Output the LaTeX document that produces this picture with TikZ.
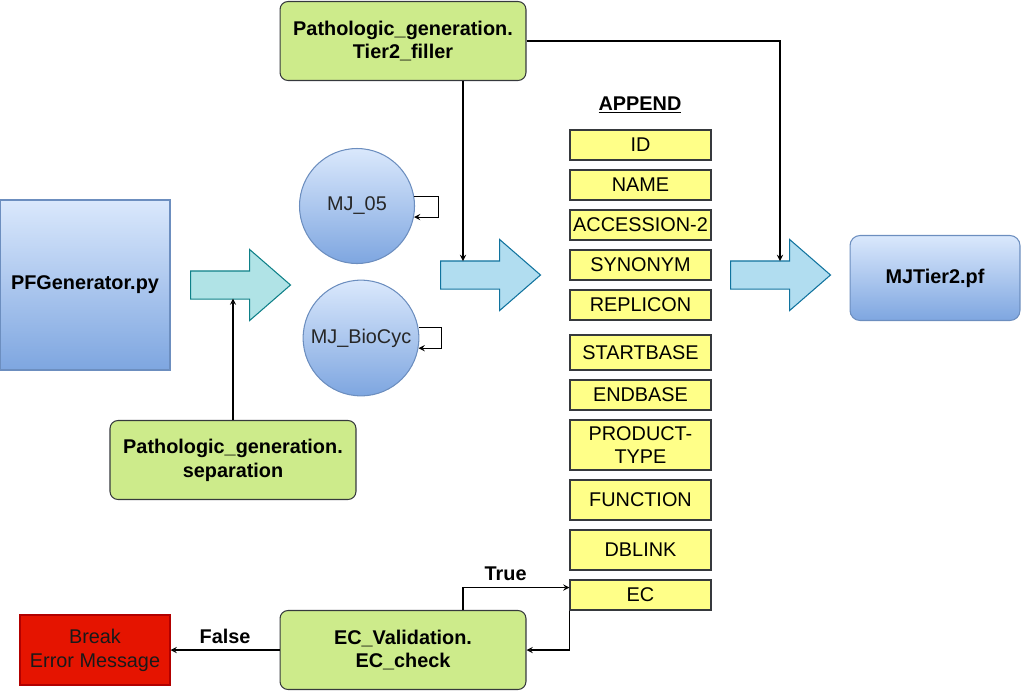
\documentclass[tikz,border=0pt]{standalone}
\usepackage{fontspec}
\setmainfont{Liberation Sans}
\usepackage{tikz}
\usetikzlibrary{shapes.arrows}

\definecolor{boxgreen}{HTML}{CDEB8B}
\definecolor{boxline}{HTML}{36393D}
\definecolor{fieldyellow}{HTML}{FFFF88}
\definecolor{bluetop}{HTML}{DAE8FC}
\definecolor{bluebottom}{HTML}{7EA6E0}
\definecolor{blueline}{HTML}{6C8EBF}
\definecolor{tealfill}{HTML}{B0E3E6}
\definecolor{tealline}{HTML}{0E8088}
\definecolor{skyfill}{HTML}{B1DDF0}
\definecolor{skyline}{HTML}{10739E}
\definecolor{errred}{HTML}{E51400}
\definecolor{errline}{HTML}{B20000}

\tikzset{
  module/.style={rectangle, rounded corners=0.16cm, fill=boxgreen, draw=boxline, line width=0.6pt,
    minimum width=4.92cm, minimum height=1.58cm, align=center, font=\fontsize{11.3}{13.5}\selectfont\bfseries},
  field/.style={rectangle, fill=fieldyellow, draw=boxline, line width=0.6pt,
    minimum width=2.82cm, inner sep=0pt, align=center},
  bluefile/.style={top color=bluetop, bottom color=bluebottom, draw=blueline, line width=0.6pt,
    align=center, font=\fontsize{11.3}{13.5}\selectfont\bfseries},
  bigarrow/.style={single arrow, anchor=tail, inner xsep=0pt, inner ysep=0.27cm, minimum height=2cm, minimum width=0pt,
    single arrow head extend=0.43cm, single arrow tip angle=82, line width=0.6pt},
  dataset/.style={circle, minimum size=2.3cm, top color=bluetop, bottom color=bluebottom,
    draw=blueline, line width=0.6pt, text=black!85}
}

\begin{document}
\begin{tikzpicture}[x=0.02cm, y=-0.02cm, >=stealth, line width=0.6pt,
    every node/.style={font=\fontsize{11.3}{13.5}\selectfont}]
    \useasboundingbox (0,0) rectangle (1021,691);

    % Input script and the output file
    \node[bluefile, rectangle, minimum width=3.4cm, minimum height=3.4cm] (pfgen) at (85,285) {PFGenerator.py};
    \node[bluefile, rectangle, rounded corners=0.2cm, minimum width=3.4cm, minimum height=1.7cm] (tier2pf) at (935,278) {MJTier2.pf};

    % Processing modules
    \node[module] (filler) at (403,41) {Pathologic\_generation.\\Tier2\_filler};
    \node[module] (separation) at (233,460) {Pathologic\_generation.\\separation};
    \node[module] (validation) at (403,650) {EC\_Validation.\\EC\_check};
    \node[rectangle, fill=errred, draw=errline, minimum width=3cm, minimum height=1.4cm, align=center, text=black!90] (break) at (95,650) {Break\\Error Message};

    % The two data sets
    \node[dataset] (mj05) at (357,206) {MJ\_05};
    \node[dataset] (mjbio) at (361,338) {MJ\_BioCyc};

    % Block arrows (placed by their tail)
    \node[bigarrow, fill=tealfill, draw=tealline] (arr1) at (190,285) {};
    \node[bigarrow, fill=skyfill, draw=skyline] (arr2) at (440,275) {};
    \node[bigarrow, fill=skyfill, draw=skyline] (arr3) at (730,275) {};

    % Fields to append
    \node[font=\fontsize{11.3}{13.5}\selectfont\bfseries] (append) at (640,105) {\underline{APPEND}};
    \foreach \n/\t/\y/\h in {id/ID/145/30, name/NAME/185/30, acc/ACCESSION-2/225/30,
        syn/SYNONYM/265/30, repl/REPLICON/305/30, start/STARTBASE/352.5/35,
        endb/ENDBASE/395/30, prod/{PRODUCT-\\TYPE}/445/50, func/FUNCTION/500/40,
        dblink/DBLINK/550/40, ec/EC/595/30}
        \node[field, minimum height=\h*0.02cm] (\n) at (640.5,\y) {\t};

    % Helper coordinates on the block arrows
    \coordinate (arr1b) at ([yshift=-0.27cm]arr1.tail);
    \coordinate (arr2t) at ([xshift=0.46cm, yshift=0.28cm]arr2.tail);
    \coordinate (arr3t) at ([xshift=1cm, yshift=0.28cm]arr3.tail);

    % Connectors
    \draw[->] (separation.north) -- (separation.north |- arr1b);
    \draw[->] (filler.south -| arr2t) -- (arr2t);
    \draw[->] (filler.east) -| (arr3t);
    \draw[->] (mj05.9) -- ++(24,0) |- (mj05.-11);
    \draw[->] (mjbio.10) -- ++(23,0) |- (mjbio.-10);
    \draw[->] (validation.north -| arr2t) |- ([yshift=0.15cm]ec.west)
        node[pos=0.7, above, font=\fontsize{11.3}{13.5}\selectfont\bfseries] {True};
    \draw[->] (ec.south west) |- (validation.east);
    \draw[->] (validation.west) -- (break.east)
        node[midway, above, font=\fontsize{11.3}{13.5}\selectfont\bfseries] {False};
\end{tikzpicture}
\end{document}
